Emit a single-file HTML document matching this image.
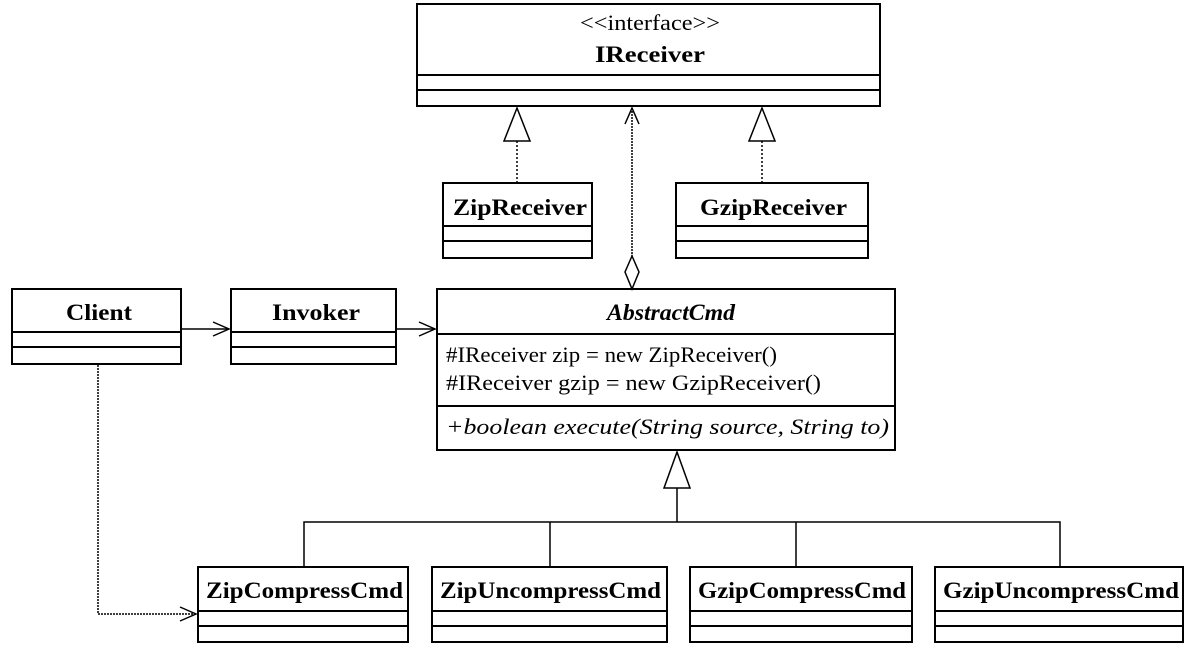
<!DOCTYPE html>
<html><head><style>
body{margin:0;background:#fff;}
svg text{font-family:"Liberation Serif",serif;fill:#000;}
.b{font-weight:bold;font-size:23px}
.n{font-size:22px}
</style></head><body>
<svg width="1195" height="651" viewBox="0 0 1195 651" xmlns="http://www.w3.org/2000/svg">
<g fill="#fff" stroke="#000" stroke-width="2">
<rect x="417" y="4" width="463" height="102"/>
<line x1="417" y1="75" x2="880" y2="75"/><line x1="417" y1="90" x2="880" y2="90"/>
<rect x="443" y="183" width="149" height="75"/>
<line x1="443" y1="226" x2="592" y2="226"/><line x1="443" y1="241" x2="592" y2="241"/>
<rect x="676" y="183" width="192" height="75"/>
<line x1="676" y1="226" x2="868" y2="226"/><line x1="676" y1="241" x2="868" y2="241"/>
<rect x="12" y="289" width="169" height="75"/>
<line x1="12" y1="332" x2="181" y2="332"/><line x1="12" y1="347" x2="181" y2="347"/>
<rect x="231" y="289" width="165" height="75"/>
<line x1="231" y1="332" x2="396" y2="332"/><line x1="231" y1="347" x2="396" y2="347"/>
<rect x="437" y="289" width="458" height="161"/>
<line x1="437" y1="334" x2="895" y2="334"/><line x1="437" y1="406" x2="895" y2="406"/>
<rect x="198" y="567" width="210" height="75"/>
<line x1="198" y1="611" x2="408" y2="611"/><line x1="198" y1="626" x2="408" y2="626"/>
<rect x="432" y="567" width="235" height="75"/>
<line x1="432" y1="611" x2="667" y2="611"/><line x1="432" y1="626" x2="667" y2="626"/>
<rect x="690" y="567" width="222" height="75"/>
<line x1="690" y1="611" x2="912" y2="611"/><line x1="690" y1="626" x2="912" y2="626"/>
<rect x="935" y="567" width="248" height="75"/>
<line x1="935" y1="611" x2="1183" y2="611"/><line x1="935" y1="626" x2="1183" y2="626"/>
</g>
<g fill="none" stroke="#000" stroke-width="1.5">
<line x1="517" y1="141" x2="517" y2="183" stroke-dasharray="2,2"/>
<polygon points="517,108 504,141 530,141" fill="#fff"/>
<line x1="762" y1="141" x2="762" y2="183" stroke-dasharray="2,2"/>
<polygon points="762,108 749,141 775,141" fill="#fff"/>
<line x1="632" y1="108" x2="632" y2="256" stroke-dasharray="2,1"/>
<polyline points="625,124 632,108 639,124"/>
<polygon points="632,256 625,272 632,289 639,272" fill="#fff"/>
<line x1="182" y1="329" x2="229" y2="329"/><polyline points="213,322 229,329 213,336"/>
<line x1="397" y1="329" x2="435" y2="329"/><polyline points="419,322 435,329 419,336"/>
<polyline points="98,365 98,614 196,614" stroke-dasharray="2,1"/>
<polyline points="180,607 196,614 180,621"/>
<polygon points="677,452 664,488 690,488" fill="#fff"/>
<line x1="677" y1="488" x2="677" y2="522"/>
<polyline points="304,567 304,522 1060,522 1060,567"/>
<line x1="550" y1="522" x2="550" y2="567"/><line x1="796" y1="522" x2="796" y2="567"/>
</g>
<text x="580" y="30" class="n" textLength="140" lengthAdjust="spacingAndGlyphs">&lt;&lt;interface&gt;&gt;</text>
<text x="595" y="62" class="b" textLength="110" lengthAdjust="spacingAndGlyphs">IReceiver</text>
<text x="453" y="215" class="b" textLength="134" lengthAdjust="spacingAndGlyphs">ZipReceiver</text>
<text x="700" y="215" class="b" textLength="147" lengthAdjust="spacingAndGlyphs">GzipReceiver</text>
<text x="66" y="320" class="b" textLength="66" lengthAdjust="spacingAndGlyphs">Client</text>
<text x="272" y="320" class="b" textLength="88" lengthAdjust="spacingAndGlyphs">Invoker</text>
<text x="607" y="320" class="b" font-style="italic" textLength="128" lengthAdjust="spacingAndGlyphs">AbstractCmd</text>
<text x="446" y="362" class="n" textLength="331" lengthAdjust="spacingAndGlyphs">#IReceiver zip = new ZipReceiver()</text>
<text x="446" y="390" class="n" textLength="375" lengthAdjust="spacingAndGlyphs">#IReceiver gzip = new GzipReceiver()</text>
<text x="446" y="434" class="n" font-style="italic" textLength="443" lengthAdjust="spacingAndGlyphs">+boolean execute(String source, String to)</text>
<text x="206" y="598" class="b" textLength="197" lengthAdjust="spacingAndGlyphs">ZipCompressCmd</text>
<text x="440" y="598" class="b" textLength="221" lengthAdjust="spacingAndGlyphs">ZipUncompressCmd</text>
<text x="698" y="598" class="b" textLength="208" lengthAdjust="spacingAndGlyphs">GzipCompressCmd</text>
<text x="943" y="598" class="b" textLength="236" lengthAdjust="spacingAndGlyphs">GzipUncompressCmd</text>
</svg>
</body></html>
